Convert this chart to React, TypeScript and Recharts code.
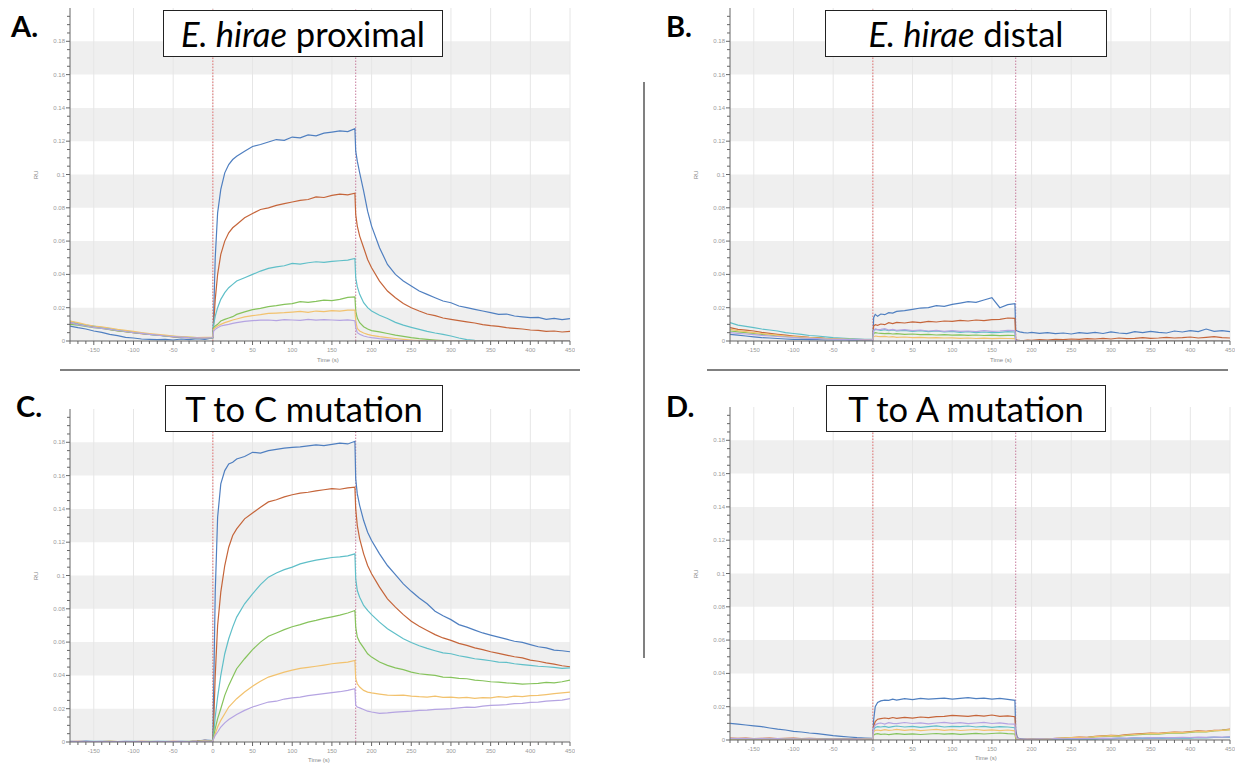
import React from "react";
import { LineChart, Line, XAxis, YAxis, ReferenceArea, ReferenceLine } from "recharts";

// Shared time axis (s)
const times = [
  -180, -170, -160, -150, -140, -130, -120, -110, -100, -90, -80, -70, -60, -50, -40, -30, -20, -10, 0,
  1, 3, 6, 10, 15, 20, 25, 30, 40, 50, 60, 70, 80, 90, 100, 110, 120, 130, 140, 150, 160, 170, 179,
  180, 182, 185, 190, 195, 200, 210, 220, 230, 240, 250, 260, 270, 280, 290, 300, 310, 320, 330, 340, 350, 360, 370, 380, 390, 400, 410, 420, 430, 440, 450,
];

const seriesKeys = ["blue", "orange", "cyan", "green", "yellow", "purple"];
const seriesColors = ["#4f7fc0", "#c5653a", "#5fbfc8", "#86c35c", "#f2c26e", "#b5a4e2"];

// ---------- Panel A: E. hirae proximal ----------
const aBlue = [
  0.009, 0.008, 0.0072, 0.006, 0.0052, 0.004, 0.0032, 0.0022, 0.0018, 0.0012, 0.001, 0.0008, 0.001, 0.0006, 0.0012, 0.0008, 0.0014, 0.001, 0.002,
  0.015, 0.05, 0.077, 0.091, 0.101, 0.106, 0.109, 0.111, 0.114, 0.1168, 0.118, 0.1195, 0.121, 0.1205, 0.1225, 0.122, 0.1238, 0.1232, 0.1248, 0.1255, 0.1262, 0.1258, 0.1275,
  0.114, 0.108, 0.101, 0.09, 0.078, 0.069, 0.056, 0.046, 0.04, 0.036, 0.033, 0.03, 0.028, 0.026, 0.024, 0.023, 0.021, 0.02, 0.019, 0.018, 0.017, 0.016, 0.0162, 0.015, 0.0145, 0.014, 0.0142, 0.013, 0.0136, 0.0128, 0.0134,
];
const aOrange = [
  0.011, 0.01, 0.0092, 0.0085, 0.0078, 0.007, 0.0062, 0.0056, 0.005, 0.0044, 0.004, 0.0036, 0.003, 0.0025, 0.0022, 0.002, 0.0018, 0.0016, 0.002,
  0.01, 0.025, 0.04, 0.052, 0.06, 0.065, 0.068, 0.07, 0.074, 0.0766, 0.079, 0.08, 0.0815, 0.0825, 0.0835, 0.0845, 0.085, 0.0865, 0.0862, 0.0875, 0.0882, 0.0878, 0.0888,
  0.076, 0.069, 0.063, 0.056, 0.049, 0.044, 0.036, 0.03, 0.026, 0.0225, 0.02, 0.018, 0.0162, 0.0152, 0.0138, 0.013, 0.0122, 0.0115, 0.0108, 0.0098, 0.0092, 0.0088, 0.008, 0.0076, 0.0072, 0.0066, 0.0064, 0.0058, 0.006, 0.0054, 0.0058,
];
const aCyan = [
  0.012, 0.0105, 0.0095, 0.009, 0.008, 0.0074, 0.0065, 0.006, 0.0052, 0.0047, 0.004, 0.0035, 0.003, 0.0026, 0.0024, 0.002, 0.0018, 0.0017, 0.002,
  0.01, 0.015, 0.02, 0.025, 0.029, 0.032, 0.034, 0.036, 0.038, 0.04, 0.042, 0.0436, 0.0445, 0.0452, 0.0466, 0.0462, 0.047, 0.0476, 0.0472, 0.0478, 0.0482, 0.0486, 0.0496,
  0.038, 0.0326, 0.028, 0.023, 0.02, 0.018, 0.0155, 0.0135, 0.0112, 0.0095, 0.0082, 0.007, 0.0058, 0.0048, 0.004, 0.003, 0.0018, 0.0008, 0.0004, 0.0002, 0.0002, 0, 0.0001, 0, 0, 0.0002, 0, 0, 0.0001, 0, 0,
];
const aGreen = [
  0.01, 0.0095, 0.0088, 0.008, 0.0075, 0.0068, 0.006, 0.0056, 0.005, 0.0045, 0.004, 0.0036, 0.003, 0.0028, 0.0024, 0.0022, 0.002, 0.0018, 0.002,
  0.008, 0.009, 0.01, 0.012, 0.013, 0.0138, 0.0146, 0.016, 0.0175, 0.0188, 0.0196, 0.0206, 0.0212, 0.022, 0.0225, 0.0236, 0.0232, 0.0238, 0.0246, 0.0242, 0.025, 0.0262, 0.0265,
  0.018, 0.0138, 0.011, 0.0086, 0.0072, 0.0062, 0.0055, 0.0045, 0.0035, 0.0028, 0.002, 0.0014, 0.001, 0.0006, 0.0003, 0, 0.0001, 0, 0, 0, 0.0001, 0, 0, 0, 0, 0, 0, 0, 0, 0, 0,
];
const aYellow = [
  0.012, 0.011, 0.0098, 0.009, 0.0085, 0.0078, 0.007, 0.0064, 0.0058, 0.005, 0.0045, 0.004, 0.0035, 0.003, 0.0026, 0.0024, 0.002, 0.0022, 0.0024,
  0.007, 0.008, 0.009, 0.01, 0.011, 0.0118, 0.0126, 0.0132, 0.0145, 0.0152, 0.0158, 0.0166, 0.0168, 0.017, 0.0174, 0.0178, 0.0172, 0.018, 0.0176, 0.0182, 0.018, 0.0185, 0.0186,
  0.012, 0.0076, 0.006, 0.0048, 0.004, 0.0034, 0.0026, 0.002, 0.0015, 0.001, 0.0006, 0.0003, 0, 0.0001, 0, 0, 0, 0.0001, 0, 0, 0, 0, 0, 0, 0, 0, 0, 0, 0, 0, 0,
];
const aPurple = [
  0.011, 0.0098, 0.009, 0.0082, 0.0076, 0.007, 0.0063, 0.0057, 0.005, 0.0046, 0.004, 0.0035, 0.003, 0.0027, 0.0023, 0.002, 0.0019, 0.0017, 0.002,
  0.006, 0.007, 0.008, 0.009, 0.0095, 0.01, 0.0106, 0.011, 0.0118, 0.0122, 0.0125, 0.0126, 0.0122, 0.0128, 0.0126, 0.0124, 0.013, 0.0125, 0.0128, 0.0126, 0.0124, 0.0127, 0.0122,
  0.008, 0.005, 0.004, 0.003, 0.0024, 0.002, 0.0014, 0.001, 0.0006, 0.0002, 0, 0, 0, 0, 0, 0, 0, 0, 0, 0, 0, 0, 0, 0, 0, 0, 0, 0, 0, 0, 0,
];

// ---------- Panel B: E. hirae distal ----------
const bBlue = [
  0.004, 0.0035, 0.003, 0.0025, 0.002, 0.0018, 0.0015, 0.0012, 0.001, 0.001, 0.0008, 0.0008, 0.0006, 0.0006, 0.0008, 0.0005, 0.0006, 0.0004, 0.0006,
  0.014, 0.016, 0.0148, 0.0162, 0.0158, 0.017, 0.0168, 0.0178, 0.0182, 0.019, 0.0198, 0.02, 0.0212, 0.0208, 0.022, 0.0228, 0.0236, 0.0232, 0.0246, 0.026, 0.02, 0.0218, 0.0224,
  0.0066, 0.006, 0.0055, 0.005, 0.0048, 0.0052, 0.0046, 0.005, 0.0044, 0.0048, 0.0042, 0.005, 0.0046, 0.0052, 0.0045, 0.0055, 0.0048, 0.0044, 0.0056, 0.005, 0.0058, 0.0052, 0.0048, 0.006, 0.0054, 0.0062, 0.0056, 0.0072, 0.0058, 0.0062, 0.0056,
];
const bOrange = [
  0.008, 0.007, 0.0065, 0.006, 0.0052, 0.0046, 0.004, 0.0035, 0.003, 0.0026, 0.0022, 0.002, 0.0016, 0.0014, 0.0012, 0.001, 0.001, 0.0008, 0.001,
  0.009, 0.0098, 0.0094, 0.0102, 0.0098, 0.011, 0.0104, 0.0112, 0.0108, 0.0115, 0.011, 0.0118, 0.0114, 0.012, 0.0118, 0.0124, 0.012, 0.0126, 0.0122, 0.0128, 0.013, 0.0138, 0.0136,
  0.001, 0.0006, 0.0004, 0.0002, 0.0006, 0.0004, 0.0008, 0.0006, 0.001, 0.0008, 0.0012, 0.001, 0.0014, 0.0012, 0.0016, 0.0012, 0.0018, 0.0014, 0.0016, 0.002, 0.0016, 0.0018, 0.0022, 0.0018, 0.002, 0.0024, 0.0018, 0.0022, 0.0026, 0.002, 0.0018,
];
const bCyan = [
  0.011, 0.0095, 0.0088, 0.008, 0.0072, 0.0066, 0.006, 0.005, 0.0045, 0.004, 0.0033, 0.003, 0.0025, 0.002, 0.0018, 0.0014, 0.0012, 0.001, 0.0012,
  0.0065, 0.007, 0.0068, 0.0064, 0.0068, 0.0062, 0.0066, 0.006, 0.0064, 0.0058, 0.0062, 0.0056, 0.006, 0.0054, 0.0058, 0.0052, 0.0056, 0.005, 0.0054, 0.005, 0.0052, 0.0056, 0.0054,
  0.0004, 0.0002, 0.0002, 0, 0.0002, 0, 0.0001, 0, 0, 0.0002, 0, 0, 0.0001, 0, 0, 0, 0.0002, 0, 0, 0, 0.0001, 0, 0, 0, 0, 0.0002, 0, 0, 0, 0, 0,
];
const bGreen = [
  0.006, 0.0055, 0.005, 0.0045, 0.004, 0.0036, 0.003, 0.0027, 0.0024, 0.002, 0.0018, 0.0016, 0.0014, 0.0012, 0.001, 0.001, 0.0008, 0.0008, 0.001,
  0.0045, 0.005, 0.0048, 0.0046, 0.0044, 0.0046, 0.0042, 0.0044, 0.004, 0.0042, 0.0038, 0.004, 0.0036, 0.0038, 0.0035, 0.0037, 0.0034, 0.0036, 0.0033, 0.0035, 0.0032, 0.0034, 0.0033,
  0.0003, 0, 0, 0, 0, 0, 0, 0, 0, 0, 0, 0, 0, 0, 0, 0, 0, 0, 0, 0, 0, 0, 0, 0, 0, 0, 0, 0, 0, 0, 0,
];
const bYellow = [
  0.007, 0.0062, 0.0056, 0.005, 0.0045, 0.004, 0.0035, 0.003, 0.0026, 0.0023, 0.002, 0.0018, 0.0015, 0.0013, 0.0012, 0.001, 0.0009, 0.0008, 0.001,
  0.0025, 0.003, 0.0028, 0.0026, 0.0028, 0.0024, 0.0026, 0.0022, 0.0024, 0.002, 0.0022, 0.0019, 0.002, 0.0018, 0.0019, 0.0016, 0.0018, 0.0015, 0.0017, 0.0014, 0.0016, 0.0015, 0.0014,
  0.0002, 0, 0, 0, 0, 0, 0, 0, 0, 0, 0, 0, 0, 0, 0, 0, 0, 0, 0, 0, 0, 0, 0, 0, 0, 0, 0, 0, 0, 0, 0,
];
const bPurple = [
  0.005, 0.0046, 0.0042, 0.0038, 0.0034, 0.003, 0.0027, 0.0024, 0.0021, 0.0018, 0.0016, 0.0014, 0.0012, 0.001, 0.001, 0.0008, 0.0008, 0.0007, 0.0008,
  0.006, 0.0072, 0.0068, 0.007, 0.0074, 0.0066, 0.007, 0.0064, 0.0068, 0.0062, 0.0066, 0.006, 0.0064, 0.0058, 0.0062, 0.0058, 0.006, 0.0056, 0.0062, 0.0058, 0.006, 0.0064, 0.0062,
  0.0004, 0.0002, 0, 0, 0, 0, 0, 0, 0, 0, 0, 0, 0, 0, 0, 0, 0, 0, 0, 0, 0, 0, 0, 0, 0, 0, 0, 0, 0, 0, 0,
];

// ---------- Panel C: T to C mutation ----------
const cBlue = [
  0.0004, 0.0003, 0.0005, 0.0002, 0.0004, 0.0003, 0.0002, 0.0004, 0.0003, 0.0002, 0.0003, 0.0004, 0.0002, 0.0003, 0.0004, 0.0002, 0.0006, 0.0012, 0.0008,
  0.03, 0.09, 0.135, 0.155, 0.163, 0.167, 0.168, 0.17, 0.1715, 0.174, 0.1735, 0.175, 0.1758, 0.1765, 0.177, 0.1772, 0.1778, 0.1785, 0.178, 0.1788, 0.1795, 0.179, 0.1806,
  0.158, 0.149, 0.142, 0.133, 0.126, 0.121, 0.113, 0.106, 0.1005, 0.095, 0.0905, 0.0865, 0.083, 0.0785, 0.0758, 0.0735, 0.0705, 0.069, 0.0672, 0.0655, 0.0642, 0.063, 0.0618, 0.0605, 0.0598, 0.0585, 0.0572, 0.0565, 0.0552, 0.0548, 0.0542,
];
const cOrange = [
  0.0003, 0.0004, 0.0002, 0.0003, 0.0002, 0.0004, 0.0003, 0.0002, 0.0003, 0.0004, 0.0002, 0.0003, 0.0002, 0.0004, 0.0003, 0.0002, 0.0005, 0.001, 0.0006,
  0.01, 0.04, 0.07, 0.09, 0.106, 0.117, 0.124, 0.128, 0.134, 0.1375, 0.141, 0.1442, 0.1455, 0.1472, 0.1485, 0.1495, 0.15, 0.1508, 0.1515, 0.1522, 0.1518, 0.1526, 0.153,
  0.14, 0.13, 0.122, 0.113, 0.106, 0.101, 0.093, 0.086, 0.081, 0.0765, 0.0725, 0.0695, 0.067, 0.0645, 0.0625, 0.061, 0.0592, 0.058, 0.0565, 0.0555, 0.0542, 0.0532, 0.0522, 0.0512, 0.0505, 0.0492, 0.0485, 0.0475, 0.0468, 0.0458, 0.0452,
];
const cCyan = [
  0.0002, 0.0003, 0.0002, 0.0004, 0.0003, 0.0002, 0.0003, 0.0002, 0.0004, 0.0003, 0.0002, 0.0003, 0.0004, 0.0002, 0.0003, 0.0002, 0.0004, 0.0009, 0.0005,
  0.005, 0.015, 0.027, 0.04, 0.053, 0.062, 0.069, 0.075, 0.083, 0.089, 0.0945, 0.099, 0.1015, 0.1035, 0.105, 0.107, 0.1082, 0.1092, 0.11, 0.1108, 0.1112, 0.1118, 0.113,
  0.098, 0.091, 0.087, 0.082, 0.079, 0.0765, 0.072, 0.068, 0.065, 0.062, 0.0598, 0.0578, 0.0562, 0.0548, 0.0535, 0.053, 0.0518, 0.051, 0.05, 0.0495, 0.0488, 0.048, 0.0478, 0.047, 0.0465, 0.046, 0.0455, 0.0452, 0.0448, 0.0442, 0.0445,
];
const cGreen = [
  0.0003, 0.0002, 0.0003, 0.0002, 0.0003, 0.0004, 0.0002, 0.0003, 0.0002, 0.0003, 0.0004, 0.0002, 0.0003, 0.0002, 0.0003, 0.0004, 0.0003, 0.0008, 0.0005,
  0.003, 0.008, 0.014, 0.02, 0.028, 0.034, 0.039, 0.044, 0.05, 0.0555, 0.06, 0.0635, 0.0655, 0.0675, 0.0692, 0.0705, 0.072, 0.073, 0.0742, 0.0752, 0.0762, 0.0775, 0.079,
  0.069, 0.063, 0.06, 0.0565, 0.053, 0.051, 0.048, 0.046, 0.0445, 0.0435, 0.042, 0.041, 0.0405, 0.04, 0.039, 0.0388, 0.0382, 0.038, 0.0372, 0.0368, 0.0362, 0.036, 0.0355, 0.0352, 0.0348, 0.035, 0.0352, 0.0358, 0.0355, 0.0362, 0.0372,
];
const cYellow = [
  0.0002, 0.0003, 0.0002, 0.0003, 0.0002, 0.0003, 0.0002, 0.0003, 0.0002, 0.0003, 0.0002, 0.0003, 0.0002, 0.0003, 0.0002, 0.0003, 0.0004, 0.0007, 0.0004,
  0.002, 0.005, 0.009, 0.013, 0.017, 0.021, 0.0235, 0.026, 0.03, 0.0335, 0.0365, 0.039, 0.0405, 0.042, 0.0432, 0.0442, 0.0448, 0.0455, 0.0462, 0.047, 0.0475, 0.048, 0.049,
  0.038, 0.035, 0.033, 0.031, 0.03, 0.0295, 0.0288, 0.0282, 0.028, 0.0282, 0.0276, 0.0272, 0.027, 0.0275, 0.0268, 0.027, 0.0265, 0.0268, 0.0262, 0.0266, 0.0265, 0.0272, 0.0268, 0.0275, 0.0272, 0.0278, 0.028, 0.0285, 0.029, 0.0295, 0.03,
];
const cPurple = [
  0.0002, 0.0002, 0.0003, 0.0002, 0.0002, 0.0003, 0.0002, 0.0002, 0.0003, 0.0002, 0.0002, 0.0003, 0.0002, 0.0002, 0.0003, 0.0002, 0.0003, 0.0006, 0.0004,
  0.002, 0.004, 0.006, 0.009, 0.0115, 0.0135, 0.015, 0.0165, 0.019, 0.021, 0.0225, 0.024, 0.0245, 0.0258, 0.0265, 0.027, 0.0278, 0.0285, 0.029, 0.0296, 0.0302, 0.031, 0.032,
  0.022, 0.021, 0.0205, 0.0195, 0.0185, 0.018, 0.0172, 0.0175, 0.018, 0.0182, 0.0185, 0.019, 0.0192, 0.0196, 0.0198, 0.02, 0.0205, 0.021, 0.0208, 0.0215, 0.022, 0.0222, 0.0225, 0.023, 0.0232, 0.0238, 0.024, 0.0245, 0.0248, 0.0252, 0.026,
];

// ---------- Panel D: T to A mutation ----------
const dBlue = [
  0.01, 0.0095, 0.009, 0.0085, 0.008, 0.0072, 0.0065, 0.006, 0.0052, 0.0048, 0.0042, 0.0038, 0.0032, 0.0026, 0.0022, 0.0018, 0.0014, 0.0012, 0.001,
  0.012, 0.02, 0.0225, 0.0235, 0.024, 0.0238, 0.0245, 0.024, 0.0248, 0.0242, 0.025, 0.0245, 0.0248, 0.0252, 0.0246, 0.025, 0.0255, 0.0248, 0.0252, 0.0245, 0.025, 0.0244, 0.0238,
  0.006, 0.0015, 0.0008, 0.0006, 0.0004, 0.0006, 0.0005, 0.0004, 0.0006, 0.0005, 0.0007, 0.0006, 0.0008, 0.0007, 0.0009, 0.0008, 0.001, 0.0009, 0.0011, 0.001, 0.0012, 0.0011, 0.0013, 0.0012, 0.0014, 0.0013, 0.0015, 0.0014, 0.0016, 0.0015, 0.0017,
];
const dOrange = [
  0.0012, 0.001, 0.0011, 0.0009, 0.001, 0.0012, 0.0009, 0.001, 0.0011, 0.0009, 0.001, 0.0008, 0.0009, 0.0008, 0.0007, 0.0008, 0.0006, 0.0007, 0.0008,
  0.008, 0.011, 0.0125, 0.0128, 0.0132, 0.0128, 0.0135, 0.013, 0.0136, 0.0132, 0.0138, 0.0135, 0.014, 0.0142, 0.0148, 0.0145, 0.0142, 0.0148, 0.0144, 0.015, 0.0142, 0.0145, 0.014,
  0.004, 0.001, 0.0005, 0.0004, 0.0006, 0.0005, 0.0008, 0.0006, 0.001, 0.0012, 0.0015, 0.0018, 0.0016, 0.0022, 0.0025, 0.0028, 0.0026, 0.0032, 0.0035, 0.0038, 0.0042, 0.004, 0.0045, 0.0048, 0.0046, 0.005, 0.0055, 0.0052, 0.0058, 0.006, 0.0065,
];
const dCyan = [
  0.0008, 0.0007, 0.0008, 0.0006, 0.0007, 0.0008, 0.0006, 0.0007, 0.0006, 0.0005, 0.0006, 0.0005, 0.0006, 0.0005, 0.0004, 0.0005, 0.0004, 0.0005, 0.0006,
  0.006, 0.0075, 0.008, 0.0078, 0.0082, 0.0076, 0.008, 0.0084, 0.0078, 0.0082, 0.0076, 0.008, 0.0085, 0.0078, 0.0082, 0.008, 0.0084, 0.0078, 0.0082, 0.0076, 0.008, 0.0078, 0.0074,
  0.002, 0.0006, 0.0004, 0.0003, 0.0004, 0.0003, 0.0005, 0.0004, 0.0006, 0.0005, 0.0007, 0.0006, 0.0008, 0.0007, 0.0009, 0.0008, 0.001, 0.0009, 0.0011, 0.001, 0.0012, 0.0011, 0.0013, 0.0012, 0.0014, 0.0013, 0.0015, 0.0014, 0.0016, 0.0015, 0.0016,
];
const dGreen = [
  0.0006, 0.0005, 0.0006, 0.0005, 0.0006, 0.0004, 0.0005, 0.0006, 0.0005, 0.0004, 0.0005, 0.0004, 0.0005, 0.0004, 0.0005, 0.0004, 0.0003, 0.0004, 0.0005,
  0.003, 0.0035, 0.0038, 0.0034, 0.0036, 0.0032, 0.0035, 0.0038, 0.0034, 0.0037, 0.0033, 0.0036, 0.0039, 0.0035, 0.0038, 0.0034, 0.0037, 0.004, 0.0036, 0.0039, 0.0042, 0.0038, 0.0036,
  0.001, 0.0004, 0.0003, 0.0004, 0.0003, 0.0005, 0.0006, 0.0005, 0.0008, 0.001, 0.0013, 0.0015, 0.0014, 0.0019, 0.0022, 0.0024, 0.0023, 0.0028, 0.003, 0.0034, 0.0036, 0.0035, 0.004, 0.0043, 0.0041, 0.0046, 0.005, 0.0048, 0.0055, 0.0058, 0.0062,
];
const dYellow = [
  0.0007, 0.0006, 0.0007, 0.0006, 0.0005, 0.0006, 0.0005, 0.0006, 0.0005, 0.0006, 0.0004, 0.0005, 0.0004, 0.0005, 0.0004, 0.0005, 0.0004, 0.0005, 0.0006,
  0.005, 0.0058, 0.006, 0.0056, 0.0062, 0.0058, 0.006, 0.0064, 0.0058, 0.0062, 0.0056, 0.006, 0.0064, 0.0058, 0.0062, 0.0057, 0.006, 0.0063, 0.0058, 0.0061, 0.0056, 0.006, 0.0055,
  0.002, 0.0005, 0.0004, 0.0003, 0.0005, 0.0004, 0.0006, 0.0005, 0.0009, 0.0011, 0.0014, 0.0016, 0.0015, 0.002, 0.0023, 0.0026, 0.0024, 0.003, 0.0033, 0.0036, 0.004, 0.0038, 0.0043, 0.0046, 0.0044, 0.0048, 0.0052, 0.005, 0.0056, 0.0058, 0.0062,
];
const dPurple = [
  0.0009, 0.0008, 0.0009, 0.0007, 0.0008, 0.0007, 0.0008, 0.0006, 0.0007, 0.0006, 0.0007, 0.0006, 0.0005, 0.0006, 0.0005, 0.0006, 0.0005, 0.0006, 0.0007,
  0.007, 0.009, 0.0098, 0.0102, 0.0096, 0.0104, 0.01, 0.0098, 0.0105, 0.0099, 0.0103, 0.0097, 0.0102, 0.0106, 0.01, 0.0104, 0.0098, 0.0102, 0.0106, 0.0099, 0.0103, 0.0097, 0.0095,
  0.003, 0.0008, 0.0006, 0.0005, 0.0006, 0.0005, 0.0007, 0.0006, 0.0008, 0.0007, 0.0009, 0.0008, 0.001, 0.0009, 0.0011, 0.001, 0.0012, 0.0011, 0.0013, 0.0012, 0.0014, 0.0013, 0.0015, 0.0014, 0.0016, 0.0015, 0.0017, 0.0016, 0.0018, 0.0017, 0.0019,
];

// ---------- Axes ----------
const xTicks = [
  -180, -170, -160, -150, -140, -130, -120, -110, -100, -90, -80, -70, -60, -50, -40, -30, -20, -10, 0,
  10, 20, 30, 40, 50, 60, 70, 80, 90, 100, 110, 120, 130, 140, 150, 160, 170, 180, 190, 200,
  210, 220, 230, 240, 250, 260, 270, 280, 290, 300, 310, 320, 330, 340, 350, 360, 370, 380, 390, 400,
  410, 420, 430, 440, 450,
];
const xMajor = [-150, -100, -50, 0, 50, 100, 150, 200, 250, 300, 350, 400, 450];
const yTicks = [
  0, 0.005, 0.01, 0.015, 0.02, 0.025, 0.03, 0.035, 0.04, 0.045, 0.05, 0.055, 0.06, 0.065, 0.07, 0.075, 0.08, 0.085, 0.09, 0.095,
  0.1, 0.105, 0.11, 0.115, 0.12, 0.125, 0.13, 0.135, 0.14, 0.145, 0.15, 0.155, 0.16, 0.165, 0.17, 0.175, 0.18, 0.185, 0.19, 0.195,
];
const yMajor = [0, 0.02, 0.04, 0.06, 0.08, 0.1, 0.12, 0.14, 0.16, 0.18];
const bandStarts = [0, 0.04, 0.08, 0.12, 0.16];
const injectionMarks = [0, 180];

function buildRows(cols: number[][]) {
  return times.map((t, i) => {
    const r: any = { t };
    seriesKeys.forEach((k, j) => {
      r[k] = cols[j][i];
    });
    return r;
  });
}

const dataA = buildRows([aBlue, aOrange, aCyan, aGreen, aYellow, aPurple]);
const dataB = buildRows([bBlue, bOrange, bCyan, bGreen, bYellow, bPurple]);
const dataC = buildRows([cBlue, cOrange, cCyan, cGreen, cYellow, cPurple]);
const dataD = buildRows([dBlue, dOrange, dCyan, dGreen, dYellow, dPurple]);

const tickFont = "'Liberation Sans', Arial, sans-serif";

const XTick = (p: any) => {
  const v = p.payload.value;
  const major = xMajor.includes(v);
  return (
    <g>
      <line x1={p.x} x2={p.x} y1={p.y} y2={p.y + (major ? 4 : 3)} stroke="#666" strokeWidth={1} />
      {major && (
        <text x={p.x} y={p.y + 11} textAnchor="middle" fontSize={6} fill="#999" fontFamily={tickFont}>
          {String(v)}
        </text>
      )}
    </g>
  );
};

const YTick = (p: any) => {
  const v = p.payload.value;
  const major = yMajor.includes(v);
  return (
    <g>
      <line x1={p.x - (major ? 4 : 3)} x2={p.x} y1={p.y} y2={p.y} stroke="#666" strokeWidth={1} />
      {major && (
        <text x={p.x - 5} y={p.y + 2} textAnchor="end" fontSize={6} fill="#999" fontFamily={tickFont}>
          {String(v)}
        </text>
      )}
    </g>
  );
};

const CHART_W = 545;
const CHART_H = 357;

function Panel({ data, left, top }: { data: any[]; left: number; top: number }) {
  return (
    <div style={{ position: "absolute", left, top }}>
      <LineChart width={CHART_W} height={CHART_H} data={data} margin={{ top: 0, right: 5, left: 0, bottom: 0 }}>
        {bandStarts.map((b) => (
          <ReferenceArea key={"band" + b} y1={b} y2={b + 0.02} fill="#efefef" fillOpacity={1} stroke="none" />
        ))}
        {xMajor.map((x) => (
          <ReferenceLine key={"g" + x} x={x} stroke="#e6e6e6" strokeWidth={1} />
        ))}
        {injectionMarks.map((x, i) => (
          <ReferenceLine key={"inj" + x} x={x} stroke={i === 0 ? "#e27272" : "#c77c9c"} strokeWidth={1} strokeDasharray="1.5 1.5" />
        ))}
        <XAxis
          dataKey="t"
          type="number"
          domain={[-180, 450]}
          ticks={xTicks}
          interval={0}
          tickSize={0}
          tickMargin={0}
          tickLine={false}
          tick={(p: any) => <XTick {...p} />}
          axisLine={{ stroke: "#666" }}
          height={24}
          allowDataOverflow
        />
        <YAxis
          type="number"
          domain={[0, 0.2]}
          ticks={yTicks}
          interval={0}
          tickSize={0}
          tickMargin={0}
          tickLine={false}
          tick={(p: any) => <YTick {...p} />}
          axisLine={{ stroke: "#666" }}
          width={40}
          allowDataOverflow
        />
        {seriesKeys.map((k, j) => (
          <Line
            key={k}
            type="linear"
            dataKey={k}
            stroke={seriesColors[j]}
            strokeWidth={1.2}
            dot={false}
            isAnimationActive={false}
          />
        ))}
      </LineChart>
    </div>
  );
}

const boxStyle: React.CSSProperties = {
  position: "absolute",
  height: 47,
  border: "1.5px solid #222",
  background: "#fff",
  boxSizing: "border-box",
  display: "flex",
  alignItems: "center",
  justifyContent: "center",
  fontFamily: "Lato, 'Open Sans', sans-serif",
  fontSize: 34.5,
  color: "#000",
  whiteSpace: "nowrap",
};

const letterStyle: React.CSSProperties = {
  position: "absolute",
  fontFamily: "Lato, 'Open Sans', sans-serif",
  fontWeight: 700,
  fontSize: 29,
  lineHeight: "29px",
  color: "#000",
};

const smallLabel: React.CSSProperties = {
  position: "absolute",
  fontFamily: tickFont,
  fontSize: 6,
  color: "#888",
  whiteSpace: "nowrap",
};

export default function App() {
  return (
    <div style={{ position: "absolute", left: 0, top: 0, width: 1238, height: 768, background: "#fff", overflow: "hidden" }}>
      <Panel data={dataA} left={30} top={8} />
      <Panel data={dataB} left={690} top={8} />
      <Panel data={dataC} left={30} top={409} />
      <Panel data={dataD} left={690} top={407} />

      {/* axis titles */}
      <div style={{ ...smallLabel, left: 317, top: 357 }}>Time (s)</div>
      <div style={{ ...smallLabel, left: 990, top: 357 }}>Time (s)</div>
      <div style={{ ...smallLabel, left: 308, top: 757 }}>Time (s)</div>
      <div style={{ ...smallLabel, left: 975, top: 755 }}>Time (s)</div>
      <div style={{ ...smallLabel, left: 32, top: 172, transform: "rotate(-90deg)" }}>RU</div>
      <div style={{ ...smallLabel, left: 692, top: 172, transform: "rotate(-90deg)" }}>RU</div>
      <div style={{ ...smallLabel, left: 32, top: 573, transform: "rotate(-90deg)" }}>RU</div>
      <div style={{ ...smallLabel, left: 692, top: 571, transform: "rotate(-90deg)" }}>RU</div>

      {/* separators */}
      <div style={{ position: "absolute", left: 60, top: 369, width: 520, height: 2, background: "#808080" }} />
      <div style={{ position: "absolute", left: 707, top: 369, width: 521, height: 2, background: "#808080" }} />
      <div style={{ position: "absolute", left: 643, top: 82, width: 2, height: 576, background: "#808080" }} />

      {/* panel letters */}
      <div style={{ ...letterStyle, left: 11, top: 11 }}>A.</div>
      <div style={{ ...letterStyle, left: 666, top: 11 }}>B.</div>
      <div style={{ ...letterStyle, left: 16, top: 391 }}>C.</div>
      <div style={{ ...letterStyle, left: 666, top: 391 }}>D.</div>

      {/* title boxes */}
      <div style={{ ...boxStyle, left: 163, top: 10, width: 280 }}>
        <span>
          <i>E. hirae</i> proximal
        </span>
      </div>
      <div style={{ ...boxStyle, left: 825, top: 10, width: 282 }}>
        <span>
          <i>E. hirae</i> distal
        </span>
      </div>
      <div style={{ ...boxStyle, left: 165, top: 385, width: 278 }}>
        <span>T to C mutation</span>
      </div>
      <div style={{ ...boxStyle, left: 826, top: 385, width: 280 }}>
        <span>T to A mutation</span>
      </div>
    </div>
  );
}
